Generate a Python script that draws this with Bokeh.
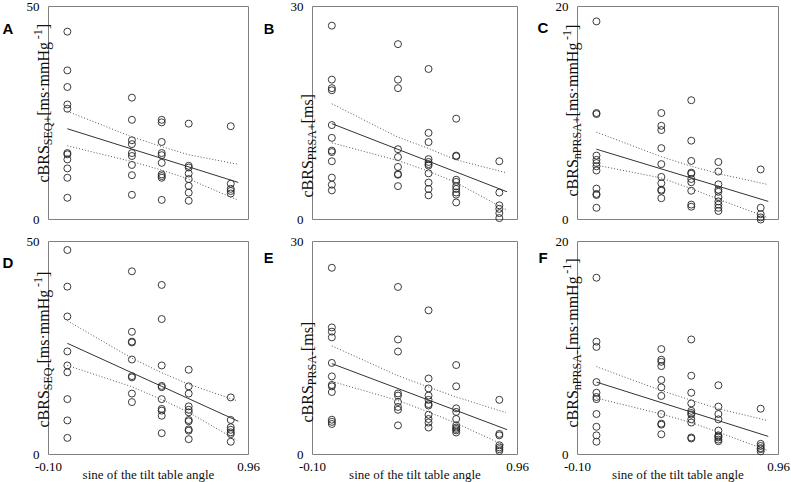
import math
from bokeh.plotting import figure
from bokeh.layouts import column, row
from bokeh.models import FixedTicker, Label, Range1d, PrintfTickFormatter
from bokeh.embed import file_html
from bokeh.resources import INLINE

# ---------------- data ----------------
x_levels = [0.0, 0.342, 0.5, 0.643, 0.866]   # sine of tilt angle groups
x_ticks = [-0.10, 0.96]
fit_x = [0.0, 0.906]
band_x = [0.0, 0.342, 0.5, 0.643, 0.9]

y_max = [50, 30, 20, 50, 30, 20]
panel_letters = ["A", "B", "C", "D", "E", "F"]
sub_names = ["SEQ+", "PRSA+", "nPRSA+", "SEQ-", "PRSA-", "nPRSA-"]
unit_kind = ["mmHg", "ms", "mmHg", "mmHg", "ms", "mmHg"]
x_title = "sine of the tilt table angle"

a_vals = [[44.1, 35.0, 31.1, 27.0, 26.0, 15.6, 15.3, 14.1, 12.0, 9.8, 5.1],
          [28.6, 23.4, 18.6, 17.7, 15.6, 14.9, 12.8, 10.4, 5.8],
          [23.4, 22.8, 18.2, 15.6, 15.1, 13.3, 10.6, 10.2, 9.8, 4.6],
          [22.5, 12.6, 12.2, 10.8, 9.5, 7.9, 6.3, 4.4],
          [21.9, 8.4, 7.2, 6.7, 6.1]]
a_fit = [21.3, 8.7]
a_upper = [25.4, 19.4, 17.1, 15.2, 13.0]
a_lower = [17.3, 13.6, 11.6, 9.5, 4.6]

b_vals = [[27.3, 19.7, 18.5, 18.2, 13.3, 11.5, 9.7, 9.5, 8.2, 5.9, 4.9, 4.1],
          [24.7, 19.7, 18.5, 9.9, 8.8, 7.4, 6.4, 6.3, 4.7],
          [21.2, 12.2, 10.9, 8.5, 8.1, 7.8, 7.6, 6.5, 5.2, 4.3, 3.4],
          [14.2, 9.0, 8.9, 5.6, 5.3, 4.7, 4.3, 3.8, 3.5, 2.4],
          [8.2, 3.8, 2.0, 1.5, 0.9, 0.2]]
b_fit = [13.5, 3.9]
b_upper = [16.3, 11.6, 10.0, 8.4, 6.6]
b_lower = [10.8, 8.3, 6.8, 5.2, 1.4]

c_vals = [[18.6, 10.0, 9.9, 6.0, 5.6, 5.3, 5.0, 4.6, 2.9, 2.4, 2.3, 1.1],
          [10.0, 8.8, 8.4, 6.7, 5.2, 4.0, 3.4, 2.8, 2.7, 2.0],
          [11.2, 7.4, 5.5, 4.4, 4.3, 3.8, 3.5, 2.7, 1.4, 1.2],
          [5.4, 4.5, 3.3, 2.8, 2.6, 2.1, 1.7, 1.4, 1.1, 0.8],
          [4.7, 1.1, 0.5, 0.2, 0.0]]
c_fit = [6.6, 1.7]
c_upper = [8.2, 5.9, 5.0, 4.3, 3.3]
c_lower = [5.1, 3.9, 2.9, 1.9, 0.2]

d_vals = [[48.0, 39.4, 32.4, 24.2, 20.9, 19.3, 13.0, 8.0, 3.9],
          [43.0, 28.8, 26.5, 26.3, 22.3, 18.4, 18.1, 14.3, 12.3],
          [39.8, 31.8, 20.9, 16.1, 15.8, 13.0, 10.7, 10.3, 9.1, 5.0],
          [19.9, 16.0, 14.3, 11.3, 10.5, 9.9, 8.1, 7.8, 5.9, 5.6, 3.6],
          [13.4, 8.1, 6.4, 5.8, 5.2, 4.8, 3.0]]
d_fit = [26.1, 7.8]
d_upper = [31.4, 22.6, 19.2, 16.5, 12.6]
d_lower = [20.9, 15.9, 12.9, 9.9, 3.3]

e_vals = [[26.3, 17.9, 17.3, 16.5, 12.9, 11.0, 9.8, 9.6, 8.8, 4.9, 4.6, 4.3],
          [23.6, 16.2, 14.5, 8.6, 8.3, 7.4, 6.7, 6.3, 4.1],
          [20.3, 10.7, 9.3, 8.3, 7.7, 7.1, 6.9, 5.6, 5.0, 4.5, 3.8],
          [12.6, 9.6, 6.5, 6.0, 5.0, 4.1, 3.8, 3.6, 3.4, 3.1],
          [7.7, 2.9, 2.7, 1.3, 1.0, 0.75, 0.5]]
e_fit = [12.8, 3.5]
e_upper = [15.3, 11.1, 9.5, 8.1, 5.9]
e_lower = [10.3, 7.6, 6.0, 4.4, 1.2]

f_vals = [[16.6, 10.6, 10.1, 6.8, 5.8, 5.4, 5.2, 3.8, 2.6, 1.8, 1.2],
          [9.9, 8.9, 8.7, 8.3, 7.0, 6.3, 5.5, 3.8, 2.9, 2.8, 1.9],
          [10.8, 7.4, 5.8, 4.8, 4.1, 3.9, 3.75, 3.3, 3.0, 1.6, 1.5],
          [6.5, 4.5, 3.8, 3.3, 2.25, 1.8, 1.7, 1.6, 1.4, 1.25],
          [4.3, 1.0, 0.8, 0.6, 0.5, 0.3]]
f_fit = [6.8, 1.7]
f_upper = [8.25, 6.0, 5.1, 4.3, 3.2]
f_lower = [5.3, 3.8, 3.0, 2.1, 0.4]

all_vals = [a_vals, b_vals, c_vals, d_vals, e_vals, f_vals]
all_fit = [a_fit, b_fit, c_fit, d_fit, e_fit, f_fit]
all_upper = [a_upper, b_upper, c_upper, d_upper, e_upper, f_upper]
all_lower = [a_lower, b_lower, c_lower, d_lower, e_lower, f_lower]

# ---------------- layout / style ----------------
X_MIN, X_MAX = -0.10, 0.96
BOX_H = 213
BOX_W = [200, 205, 201]
LEFT_B = [48, 48, 48]
RIGHT_B = [16, 12, 13]
TOP_B = [6, 6]
BOTTOM_B = [16, 28]
LABEL_START = [37, 22, 23, 27, 32, 27]    # px above box bottom where y title starts
LETTER_DX = [-46, -49, -40, -46, -49, -39]
LETTER_DY = [22, 22, 21, 21, 16, 16]
SERIF = "Liberation Serif"
MAIN_FS, SUB_FS = 16, 12
TXT = "#111111"

TW = {' ': 250, '+': 564, '-': 333, '[': 333, ']': 333, '\u00b7': 250, '1': 500,
      'c': 444, 'm': 778, 's': 389, 'n': 500, 'g': 500, 'B': 667, 'R': 667,
      'S': 556, 'E': 611, 'Q': 722, 'P': 556, 'A': 722, 'H': 722}


def text_w(t, fs):
    return sum(TW.get(ch, 500) for ch in t) * fs / 1000.0


def make_panel(i):
    r, c = divmod(i, 3)
    bw = BOX_W[c]
    ymax = y_max[i]
    dx = (X_MAX - X_MIN) / bw   # data per px
    dy = ymax / BOX_H
    W = LEFT_B[c] + bw + RIGHT_B[c]
    H = TOP_B[r] + BOX_H + BOTTOM_B[r]
    p = figure(width=W, height=H, min_border=0,
               min_border_left=0, min_border_right=0,
               min_border_top=0, min_border_bottom=0,
               x_range=Range1d(X_MIN - LEFT_B[c] * dx, X_MAX + RIGHT_B[c] * dx),
               y_range=Range1d(-BOTTOM_B[r] * dy, ymax + TOP_B[r] * dy),
               output_backend="svg", toolbar_location=None)
    p.grid.visible = False
    p.outline_line_color = None
    p.background_fill_color = "white"
    p.border_fill_color = "white"

    # the plot box
    p.quad(left=[X_MIN], right=[X_MAX], bottom=[0], top=[ymax],
           fill_color=None, line_color="#808080", line_width=1)

    ya = p.yaxis[0]
    ya.fixed_location = X_MIN
    ya.ticker = FixedTicker(ticks=[0, ymax])
    ya.major_tick_out = 0
    ya.major_tick_in = 0
    ya.minor_tick_out = 0
    ya.minor_tick_in = 0
    ya.axis_line_color = None
    ya.major_label_standoff = 9
    ya.major_label_text_font = SERIF
    ya.major_label_text_font_size = "13px"
    ya.major_label_text_color = "black"

    xa = p.xaxis[0]
    if r == 0:
        xa.visible = False
    else:
        xa.fixed_location = 0
        xa.ticker = FixedTicker(ticks=x_ticks)
        xa.formatter = PrintfTickFormatter(format="%.2f")
        xa.major_tick_out = 0
        xa.major_tick_in = 0
        xa.minor_tick_out = 0
        xa.minor_tick_in = 0
        xa.axis_line_color = None
        xa.major_label_standoff = 8
        xa.major_label_text_font = SERIF
        xa.major_label_text_font_size = "13px"
        xa.major_label_text_color = "black"

    # data
    xs, ys = [], []
    for xl, col in zip(x_levels, all_vals[i]):
        for v in col:
            xs.append(xl)
            ys.append(v)
    p.scatter(xs, ys, marker="circle", size=7, fill_color=None,
              line_color="#262626", line_width=0.9)
    p.line(fit_x, all_fit[i], line_color="#333333", line_width=1)
    p.line(band_x, all_upper[i], line_color="#555555", line_width=1, line_dash="1 2")
    p.line(band_x, all_lower[i], line_color="#555555", line_width=1, line_dash="1 2")

    # panel letter
    p.add_layout(Label(x=X_MIN + LETTER_DX[i] * dx, y=ymax - LETTER_DY[i] * dy,
                       text=panel_letters[i], text_font="Liberation Sans",
                       text_font_style="bold", text_font_size="15px",
                       text_color="black", text_align="left",
                       text_baseline="alphabetic"))

    # rotated y title with sub/superscripts
    pieces = [("cBRS", "main"), (sub_names[i], "sub")]
    if unit_kind[i] == "mmHg":
        pieces += [(" [ms\u00b7mmHg", "main"), ("-1", "sup"), ("]", "main")]
    else:
        pieces += [(" [ms]", "main")]
    base_px = -5
    pos = LABEL_START[i]
    for txt, kind in pieces:
        fs = MAIN_FS if kind == "main" else SUB_FS
        off = {"main": 0, "sub": 4, "sup": -6}[kind]
        p.add_layout(Label(x=X_MIN + (base_px + off) * dx, y=pos * dy,
                           text=txt, angle=math.pi / 2, angle_units="rad",
                           text_font=SERIF, text_font_size=f"{fs}px",
                           text_color=TXT, text_align="left",
                           text_baseline="alphabetic"))
        pos += text_w(txt, fs)

    # x title (bottom row)
    if r == 1:
        p.add_layout(Label(x=(X_MIN + X_MAX) / 2, y=-20 * dy,
                           text=x_title,
                           text_font=SERIF, text_font_size="13px",
                           text_color=TXT, text_align="center",
                           text_baseline="alphabetic"))
    return p


panels = [make_panel(i) for i in range(6)]
layout = column(row(*panels[:3]), row(*panels[3:]))

open("out.html", "w").write(file_html(layout, INLINE))
